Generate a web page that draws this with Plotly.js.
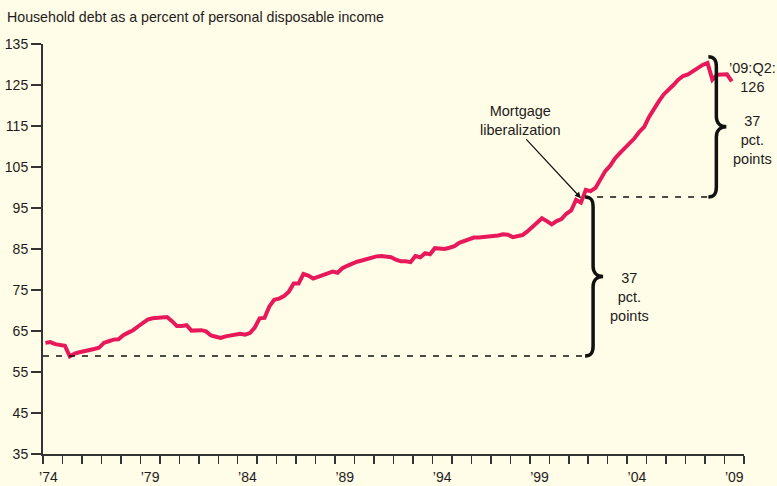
<!DOCTYPE html>
<html>
<head>
<meta charset="utf-8">
<script src="https://cdn.plot.ly/plotly-3.0.1.min.js"></script>
<style>html,body{margin:0;padding:0;background:#FFFDE7;}</style>
</head>
<body>
<div id="chart" style="width:777px;height:486px;"></div>
<script>
// ---- data (quarterly, 1974:Q1 - 2009:Q2) ----
const chartTitle = "Household debt as a percent of personal disposable income";
const startYear = 1974;
const debt1970s = [62.1, 62.3, 61.8, 61.6, 61.4, 58.8, 59.5, 59.8, 60.0, 60.3, 60.6, 60.9,
                   62.1, 62.5, 62.9, 63.0, 64.0, 64.6, 65.2, 66.1, 67.0, 67.8, 68.1, 68.2];
const debt1980s = [68.3, 68.4, 67.4, 66.2, 66.2, 66.4, 65.1, 65.1, 65.2, 64.9, 63.9, 63.6,
                   63.3, 63.7, 63.9, 64.1, 64.3, 64.1, 64.5, 65.8, 68.1, 68.2, 71.0, 72.6,
                   72.9, 73.5, 74.6, 76.6, 76.6, 78.9, 78.5, 77.8, 78.2, 78.6, 79.0, 79.5,
                   79.2, 80.3, 80.9, 81.5];
const debt1990s = [81.9, 82.2, 82.6, 82.9, 83.2, 83.3, 83.2, 83.0, 82.4, 82.0, 82.0, 81.8,
                   83.3, 83.0, 84.0, 83.7, 85.2, 85.0, 85.0, 85.3, 85.7, 86.5, 87.0, 87.3,
                   87.8, 87.8, 87.9, 88.0, 88.1, 88.3, 88.6, 88.5, 87.9, 88.1, 88.4, 89.3,
                   90.4, 91.5, 92.5, 91.8];
const debt2000s = [91.0, 91.8, 92.3, 93.6, 94.4, 97.0, 96.3, 99.4, 99.1, 99.9, 102.0, 104.0,
                   105.3, 107.1, 108.4, 109.6, 110.5, 112.0, 113.6, 114.8, 117.2, 119.2, 121.0, 122.7,
                   123.7, 125.0, 126.3, 127.2, 127.6, 128.4, 129.3, 129.9, 130.4, 126.3, 127.5, 127.5,
                   127.6, 125.9];
const yTickVals = [35, 45, 55, 65, 75, 85, 95, 105, 115, 125, 135];
const xLabelYears = [1974, 1979, 1984, 1989, 1994, 1999, 2004, 2009];
const xLabelText = ["\u201974", "\u201979", "\u201984", "\u201989", "\u201994", "\u201999", "\u201904", "\u201909"];

// annotation levels
const troughLevel = 58.9;
const liberalizationLevel = 97.7;
const recentPeakLevel = 131.9;
const lowerBraceYear = 2002.25;
const upperBraceYear = 2008.58;
const liberalizationQuarter = "2001Q3";
const latestLabel = "\u201909:Q2:<br>126";

// ---- build ----
const debt = [].concat(debt1970s, debt1980s, debt1990s, debt2000s);
const quarterX = debt.map((_, i) => startYear + (i + 0.5) / 4);
const quarterNames = debt.map((_, i) => (startYear + Math.floor(i / 4)) + "Q" + (i % 4 + 1));

const W = 777, H = 486;
const M = {l: 43, r: 33, t: 44, b: 32};
const xRange = [1974, 2010], yRange = [35, 135];
const pxX = (xRange[1] - xRange[0]) / (W - M.l - M.r);
const pxY = (yRange[1] - yRange[0]) / (H - M.t - M.b);
const toPaperX = yr => (yr - xRange[0]) / (xRange[1] - xRange[0]);

const FONT = "Liberation Sans, Arial, Helvetica, sans-serif";
const INK = "#1E1B1C";

function bracePath(x0, yLow, yHigh) {
  const X = p => (x0 + p * pxX).toFixed(4);
  const Y = (v, p) => (v - p * pxY).toFixed(4); // p: pixels downward
  const ym = (yLow + yHigh) / 2;
  return "M" + X(-8) + "," + Y(yHigh, 0) +
    " C" + X(-2) + "," + Y(yHigh, 0) + " " + X(0) + "," + Y(yHigh, 3) + " " + X(0) + "," + Y(yHigh, 10) +
    " L" + X(0) + "," + Y(ym, -10) +
    " C" + X(0) + "," + Y(ym, -4) + " " + X(4) + "," + Y(ym, 0) + " " + X(10) + "," + Y(ym, 0) +
    " C" + X(4) + "," + Y(ym, 0) + " " + X(0) + "," + Y(ym, 4) + " " + X(0) + "," + Y(ym, 10) +
    " L" + X(0) + "," + Y(yLow, -10) +
    " C" + X(0) + "," + Y(yLow, -3) + " " + X(-2) + "," + Y(yLow, 0) + " " + X(-8) + "," + Y(yLow, 0);
}

const libIdx = quarterNames.indexOf(liberalizationQuarter);
const lowerMid = (troughLevel + liberalizationLevel) / 2;
const upperMid = (liberalizationLevel + recentPeakLevel) / 2;

const trace = {
  x: quarterX, y: debt, type: "scatter", mode: "lines",
  line: {color: "#E8195B", width: 4},
  hoverinfo: "skip"
};

const shapes = [
  {type: "line", xref: "x", yref: "y", x0: xRange[0], x1: lowerBraceYear - 8 * pxX,
   y0: troughLevel, y1: troughLevel, line: {color: "#111", width: 1.5, dash: "6px,7px"}},
  {type: "line", xref: "x", yref: "y", x0: lowerBraceYear + 4 * pxX, x1: upperBraceYear - 8 * pxX,
   y0: liberalizationLevel, y1: liberalizationLevel, line: {color: "#111", width: 1.5, dash: "6px,7px"}},
  {type: "path", xref: "x", yref: "y", path: bracePath(lowerBraceYear, troughLevel, liberalizationLevel),
   line: {color: "#111", width: 3.5}},
  {type: "path", xref: "x", yref: "y", path: bracePath(upperBraceYear, liberalizationLevel, recentPeakLevel),
   line: {color: "#111", width: 3.5}}
];

const annFont = {family: FONT, size: 14.5, color: INK};
const annotations = [
  {x: 1998.54, y: 116.3, xref: "x", yref: "y", text: "Mortgage<br>liberalization",
   showarrow: false, font: annFont, align: "center", xanchor: "center"},
  {x: quarterX[libIdx], y: debt[libIdx] + 1.1, xref: "x", yref: "y", text: "",
   showarrow: true, axref: "x", ayref: "y", ax: 1998.75, ay: 112.1,
   arrowhead: 2, arrowsize: 1, arrowwidth: 1.2, arrowcolor: "#111", standoff: 0},
  {x: lowerBraceYear + 36 * pxX, y: lowerMid, xref: "x", yref: "y", xanchor: "center", yanchor: "middle", yshift: -21,
   text: "37<br>pct.<br>points", showarrow: false, font: annFont, align: "center"},
  {x: toPaperX(upperBraceYear + 36 * pxX), y: upperMid, xref: "paper", yref: "y", xanchor: "center", yanchor: "middle", yshift: -13,
   text: "37<br>pct.<br>points", showarrow: false, font: annFont, align: "center"},
  {x: toPaperX(upperBraceYear + 36 * pxX), y: 126.8, xref: "paper", yref: "y", xanchor: "center", yanchor: "middle",
   text: latestLabel, showarrow: false, font: annFont, align: "center"}
];

const minorYears = [];
for (let yr = xRange[0]; yr <= xRange[1]; yr++) minorYears.push(yr);

const layout = {
  width: W, height: H,
  margin: M,
  paper_bgcolor: "#FFFDE7", plot_bgcolor: "#FFFDE7",
  showlegend: false,
  font: {family: FONT, color: INK, size: 14},
  title: {text: chartTitle, x: 7 / W, xref: "container", xanchor: "left",
          y: 1 - 17 / H, yref: "container", yanchor: "middle",
          font: {family: FONT, size: 14.2, color: INK}},
  xaxis: {
    range: xRange, showgrid: false, zeroline: false,
    showline: true, linecolor: "#333", linewidth: 2,
    tickmode: "array",
    tickvals: xLabelYears.map((y, i) => i === 0 ? y + 0.28 : y + 0.5),
    ticktext: xLabelText,
    ticks: "outside", ticklen: 9, tickcolor: "rgba(0,0,0,0)",
    tickfont: {family: FONT, size: 14, color: INK},
    minor: {tickmode: "array", tickvals: minorYears, ticks: "outside", ticklen: 8,
            tickwidth: 1.5, tickcolor: "#333", showgrid: false}
  },
  yaxis: {
    range: yRange, showgrid: false, zeroline: false,
    showline: true, linecolor: "#333", linewidth: 2,
    tickmode: "array", tickvals: yTickVals,
    ticks: "outside", ticklen: 10, tickwidth: 2, tickcolor: "#333",
    tickfont: {family: FONT, size: 14, color: INK}
  },
  shapes: shapes,
  annotations: annotations
};

Plotly.newPlot("chart", [trace], layout, {staticPlot: true, displayModeBar: false});
</script>
</body>
</html>
